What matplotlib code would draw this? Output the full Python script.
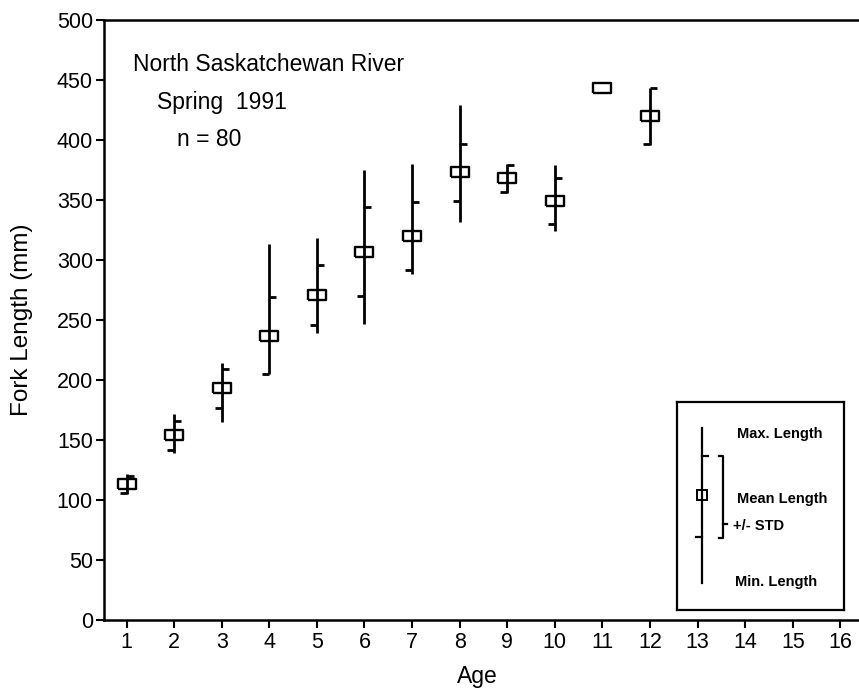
import matplotlib
matplotlib.use("Agg")
import matplotlib.pyplot as plt

# ---- data ----
ages = [1, 2, 3, 4, 5, 6, 7, 8, 9, 10, 11, 12]
mean_len = [113, 154, 193, 237, 271, 307, 320, 373, 368, 349, 443, 420]
std_len = [7, 12, 16, 32, 25, 37, 28, 24, 11, 19, 0, 23]
min_len = [105, 139, 165, 205, 239, 247, 288, 332, 356, 324, 443, 396]
max_len = [122, 172, 214, 313, 318, 375, 380, 429, 380, 379, 443, 443]
x_ticks = list(range(1, 17))
y_ticks = list(range(0, 501, 50))
header_lines = ["North Saskatchewan River", "Spring  1991", "n = 80"]
legend_labels = ["Max. Length", "Mean Length", "+/- STD", "Min. Length"]

plt.rcParams['font.family'] = ['Liberation Sans', 'DejaVu Sans']

W, H = 859, 693
fig = plt.figure(figsize=(W / 100, H / 100), dpi=100)
L, R, B, T = 104, 859, 620, 20
ax = fig.add_axes([L / W, (H - B) / H, (R - L) / W, (B - T) / H])
ax.set_xlim(0.527, 16.39)
ax.set_ylim(0, 500)

# spines
for s in ['left', 'bottom', 'top']:
    ax.spines[s].set_linewidth(1.8)
ax.spines['right'].set_visible(False)

ax.set_xticks(x_ticks)
ax.set_yticks(y_ticks)
ax.tick_params(direction='out', length=6, width=1.5, labelsize=15.5, pad=2)
ax.tick_params(axis='x', pad=3)
ax.set_xlabel("Age", fontsize=16.5)
ax.xaxis.set_label_coords(0.495, -0.075)
ax.set_ylabel("Fork Length (mm)", fontsize=17.5)
ax.yaxis.set_label_coords(-0.094, 0.5)

# markers
box_marker = [(-1, -0.55), (1, -0.55), (1, 0.55), (-1, 0.55), (-1, -0.55)]
right_tick = [(0, 0), (1, 0)]
left_tick = [(0, 0), (-1, 0)]

ax.vlines(ages, min_len, max_len, colors='k', linewidth=2.0, capstyle='butt')
xs = [a for a, s in zip(ages, std_len) if s > 0]
up = [m + s for m, s in zip(mean_len, std_len) if s > 0]
lo = [m - s for m, s in zip(mean_len, std_len) if s > 0]
ax.plot(xs, up, ls='none', marker=right_tick, ms=10.5, mew=2.0, mec='k', mfc='none')
ax.plot(xs, lo, ls='none', marker=left_tick, ms=10.5, mew=2.0, mec='k', mfc='none')
ax.plot(ages, mean_len, ls='none', marker=box_marker, ms=13.5, mew=1.7,
        mec='k', mfc='none')

# header text
hx = [(133 - L) / (R - L), (157 - L) / (R - L), (177 - L) / (R - L)]
hy = [(B - 70.7) / (B - T), (B - 109) / (B - T), (B - 145.7) / (B - T)]
for t, x, y in zip(header_lines, hx, hy):
    ax.text(x, y, t, transform=ax.transAxes, fontsize=16.5, va='baseline', ha='left')

# ---- explanatory key box (pixel-style coordinates inside its own axes) ----
kx0, kx1, ky0, ky1 = 677, 844, 402, 610
lax = fig.add_axes([kx0 / W, (H - ky1) / H, (kx1 - kx0) / W, (ky1 - ky0) / H])
lax.set_xlim(kx0, kx1)
lax.set_ylim(ky1, ky0)
lax.set_xticks([])
lax.set_yticks([])
for s in lax.spines.values():
    s.set_linewidth(1.6)

lax.plot([702, 702], [428, 583], color='k', lw=1.6)
lax.plot([702, 708], [456, 456], color='k', lw=1.6)
lax.plot([696, 702], [537, 537], color='k', lw=1.6)
lax.plot([702], [495], ls='none', marker='s', ms=7, mfc='none', mec='k', mew=1.4)
lax.plot([719, 723, 723, 719], [456, 456, 538, 538], color='k', lw=1.6)
lax.plot([723, 727], [524, 524], color='k', lw=1.6)
ty = [438, 503, 530, 586]
tx = [737, 737, 733, 735]
for t, x, y in zip(legend_labels, tx, ty):
    lax.text(x, y, t, fontsize=10.5, fontweight='bold', va='baseline', ha='left')

fig.savefig("out.png", dpi=100)
